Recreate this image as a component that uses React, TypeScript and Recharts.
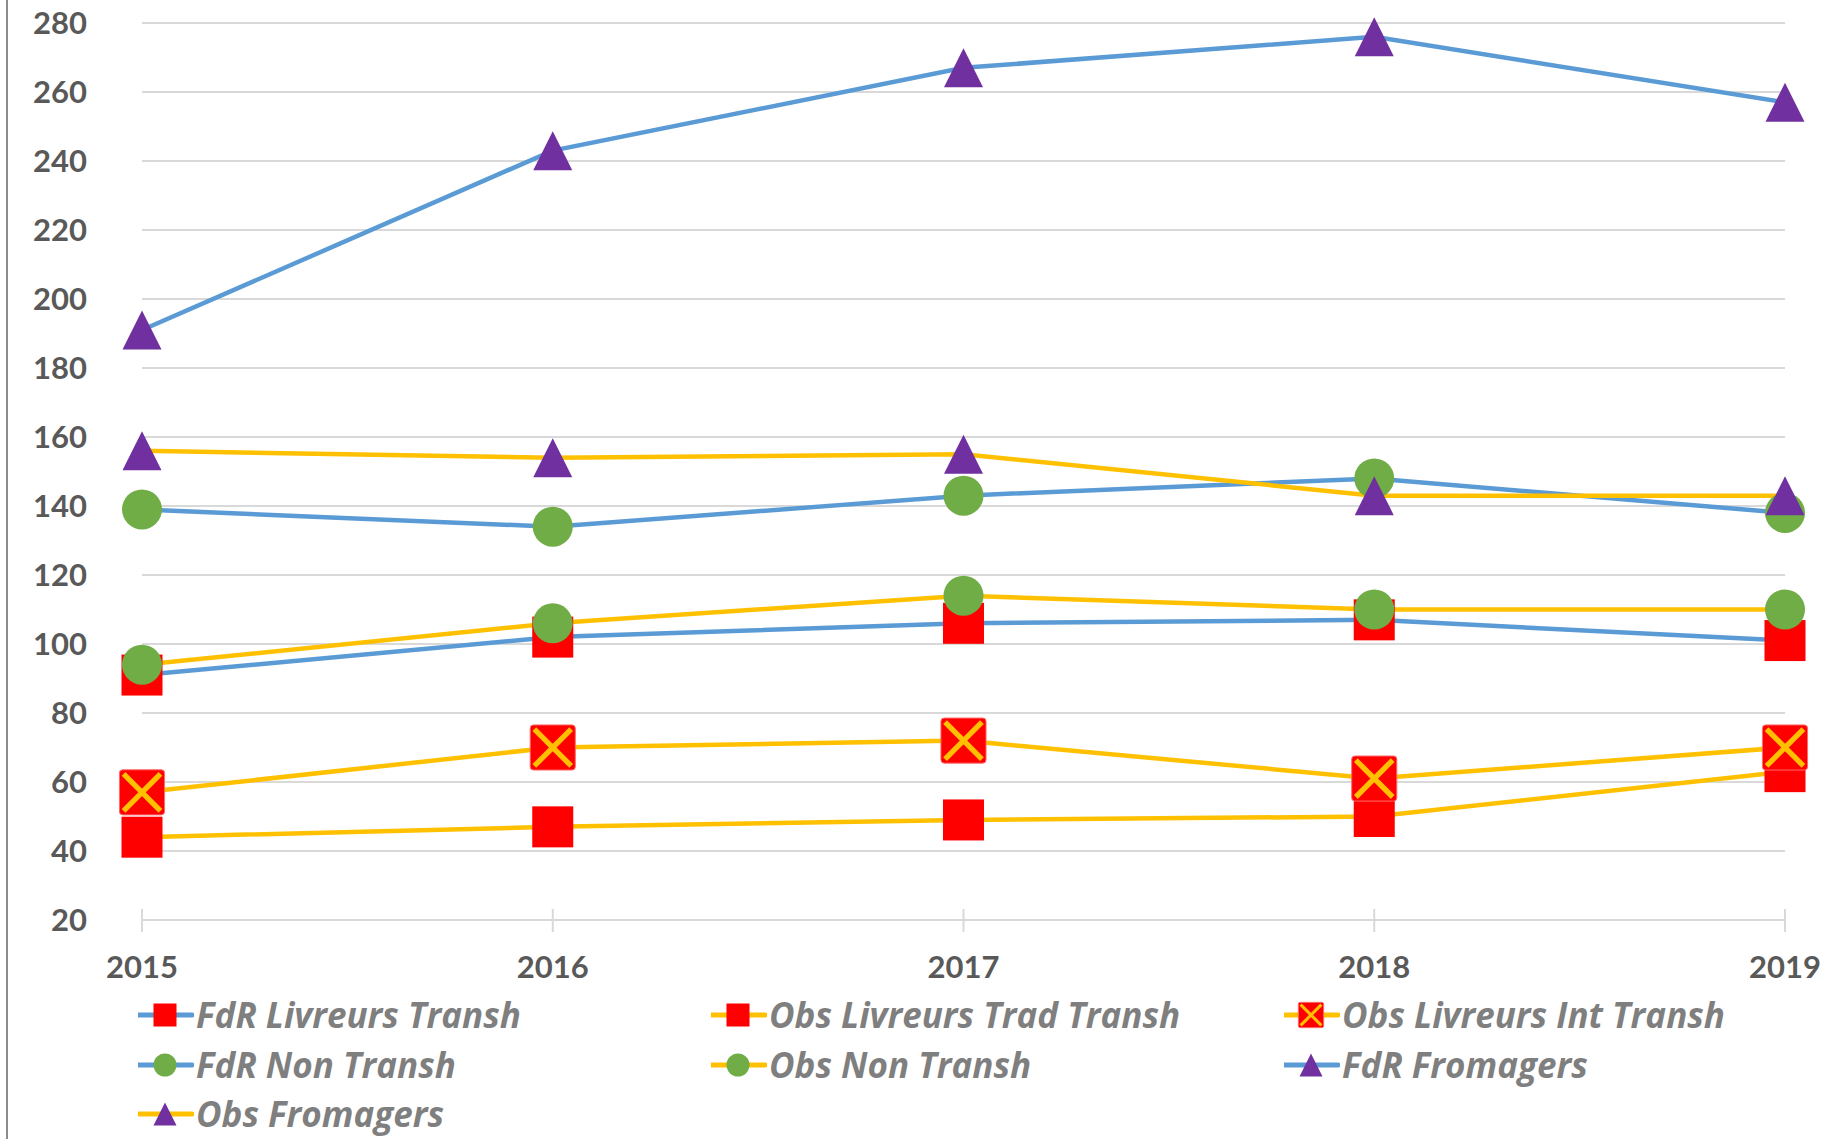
import React from 'react'
import { LineChart, Line, XAxis, YAxis, CartesianGrid } from 'recharts'

const years = ['2015', '2016', '2017', '2018', '2019']
const fdrLivreursTransh = [91, 102, 106, 107, 101]
const obsLivreursTradTransh = [44, 47, 49, 50, 63]
const obsLivreursIntTransh = [57, 70, 72, 61, 70]
const fdrNonTransh = [139, 134, 143, 148, 138]
const obsNonTransh = [94, 106, 114, 110, 110]
const fdrFromagers = [191, 243, 267, 276, 257]
const obsFromagers = [156, 154, 155, 143, 143]
const yTicks = [20, 40, 60, 80, 100, 120, 140, 160, 180, 200, 220, 240, 260, 280]

const BLUE = '#5B9BD5'
const YELLOW = '#FFC000'
const RED = '#FF0000'
const GREEN = '#70AD47'
const PURPLE = '#7030A0'
const FONT = 'Lato, "Noto Sans", sans-serif'
const LEGEND_FONT = '"Open Sans", Lato, sans-serif'

type MarkerType = 'square' | 'cross' | 'circle' | 'triangle'

const series: { key: string; name: string; color: string; marker: MarkerType; values: number[] }[] = [
  { key: 'fdrLT', name: 'FdR Livreurs Transh', color: BLUE, marker: 'square', values: fdrLivreursTransh },
  { key: 'obsLTT', name: 'Obs Livreurs Trad Transh', color: YELLOW, marker: 'square', values: obsLivreursTradTransh },
  { key: 'obsLIT', name: 'Obs Livreurs Int Transh', color: YELLOW, marker: 'cross', values: obsLivreursIntTransh },
  { key: 'fdrNT', name: 'FdR Non Transh', color: BLUE, marker: 'circle', values: fdrNonTransh },
  { key: 'obsNT', name: 'Obs Non Transh', color: YELLOW, marker: 'circle', values: obsNonTransh },
  { key: 'fdrF', name: 'FdR Fromagers', color: BLUE, marker: 'triangle', values: fdrFromagers },
  { key: 'obsF', name: 'Obs Fromagers', color: YELLOW, marker: 'triangle', values: obsFromagers },
]

const data = years.map((year, i) => {
  const row: Record<string, string | number> = { year }
  series.forEach((s) => (row[s.key] = s.values[i]))
  return row
})

function Marker({ type, cx, cy, size }: { type: MarkerType; cx: number; cy: number; size: number }) {
  const h = size / 2
  if (type === 'square') {
    return <rect x={cx - h} y={cy - h} width={size} height={size} fill={RED} />
  }
  if (type === 'cross') {
    const s = size * 1.1
    const k = s / 2
    const i = k - size * 0.1
    return (
      <g>
        <rect x={cx - k} y={cy - k} width={s} height={s} rx={size * 0.08} fill={RED} stroke="#ff6a6a" strokeWidth={1} />
        <line x1={cx - i} y1={cy - i} x2={cx + i} y2={cy + i} stroke={YELLOW} strokeWidth={size * 0.13} />
        <line x1={cx - i} y1={cy + i} x2={cx + i} y2={cy - i} stroke={YELLOW} strokeWidth={size * 0.13} />
      </g>
    )
  }
  if (type === 'circle') {
    return <circle cx={cx} cy={cy} r={h} fill={GREEN} />
  }
  return (
    <polygon
      points={`${cx},${cy - h} ${cx + h},${cy + h} ${cx - h},${cy + h}`}
      fill={PURPLE}
    />
  )
}

const XTick = (props: any) => {
  const { x, y, payload } = props
  return (
    <g>
      <line x1={x} x2={x} y1={y - 11} y2={y + 12} stroke="#d9d9d9" strokeWidth={2} />
      <text
        x={x}
        y={y + 46}
        textAnchor="middle"
        dominantBaseline="central"
        fill="#595959"
        fontSize={31}
        fontWeight={700}
        fontFamily={FONT}
      >
        {payload.value}
      </text>
    </g>
  )
}

const legendCols = [138, 711, 1284]
const legendRows = [1015, 1065, 1114]

function ChartLegend() {
  return (
    <>
      {series.map((s, i) => {
        const left = legendCols[i % 3]
        const top = legendRows[Math.floor(i / 3)]
        return (
          <div
            key={s.key}
            style={{ position: 'absolute', left, top: top - 20, height: 40, display: 'flex', alignItems: 'center' }}
          >
            <svg width={56} height={40}>
              <line x1={0} x2={54} y1={20} y2={20} stroke={s.color} strokeWidth={5} strokeLinecap="round" />
              <Marker type={s.marker} cx={27} cy={20} size={23} />
            </svg>
            <span
              style={{
                marginLeft: 2,
                fontFamily: LEGEND_FONT,
                fontWeight: 700,
                fontStyle: 'italic',
                fontSize: 35,
                lineHeight: '40px',
                color: '#7f7f7f',
                whiteSpace: 'nowrap',
              }}
            >
              {s.name}
            </span>
          </div>
        )
      })}
    </>
  )
}

export default function App() {
  return (
    <div style={{ position: 'absolute', left: 0, top: 0, width: 1827, height: 1139, background: '#fff', overflow: 'hidden' }}>
      <div style={{ position: 'absolute', left: 6, top: 0, width: 2, height: 1139, background: '#8c8c8c' }} />
      <LineChart width={1827} height={1139} data={data} margin={{ top: 23, right: 42, left: 0, bottom: 0 }}>
        <CartesianGrid vertical={false} stroke="#d9d9d9" strokeWidth={2} />
        <XAxis
          dataKey="year"
          height={219}
          axisLine={{ stroke: '#d9d9d9', strokeWidth: 2 }}
          tickLine={false}
          tickSize={0}
          tickMargin={0}
          tick={<XTick />}
          interval={0}
        />
        <YAxis
          width={142}
          domain={[20, 280]}
          ticks={yTicks}
          axisLine={false}
          tickLine={false}
          tickSize={0}
          tickMargin={55}
          tick={{ fill: '#595959', fontSize: 31, fontWeight: 700, fontFamily: FONT }}
        />
        {series.map((s) => (
          <Line
            key={s.key}
            dataKey={s.key}
            name={s.name}
            stroke={s.color}
            strokeWidth={4.5}
            isAnimationActive={false}
            activeDot={false}
            dot={(p: any) => (
              <Marker key={`${s.key}-${p.index}`} type={s.marker} cx={p.cx} cy={p.cy} size={s.marker === 'circle' ? 40 : s.marker === 'triangle' ? 39 : 41} />
            )}
          />
        ))}
      </LineChart>
      <ChartLegend />
    </div>
  )
}
